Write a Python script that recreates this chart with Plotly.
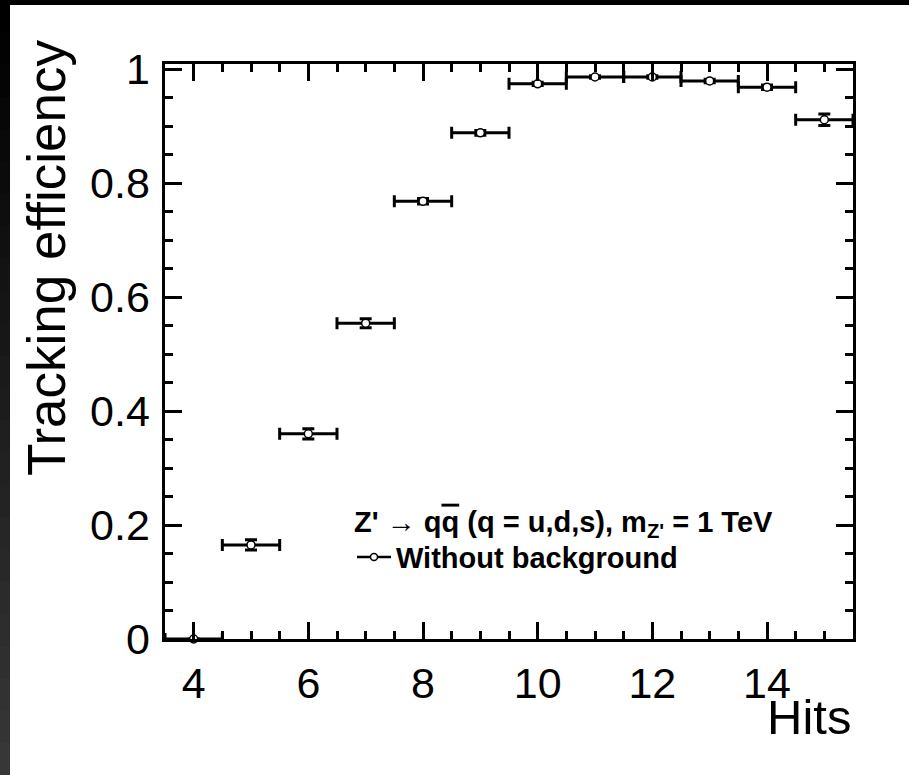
import plotly.graph_objects as go

# ---- data ----
hits = [4, 5, 6, 7, 8, 9, 10, 11, 12, 13, 14, 15]
efficiency = [0.0, 0.165, 0.360, 0.554, 0.768, 0.888, 0.974, 0.986, 0.986, 0.979, 0.968, 0.911]
eff_err = [0.0, 0.009, 0.009, 0.008, 0.005, 0.004, 0.003, 0.002, 0.002, 0.003, 0.004, 0.010]
hits_halfwidth = [0.5] * len(hits)

x_ticks = [4, 6, 8, 10, 12, 14]
y_ticks = [0, 0.2, 0.4, 0.6, 0.8, 1]
y_tick_text = ["0", "0.2", "0.4", "0.6", "0.8", "1"]

W, H = 909, 775
ML, MR, MT, MB = 165, 56, 64, 136
PW, PH = W - ML - MR, H - MT - MB

def px(xpix):
    return (xpix - ML) / PW

def py(ypix):
    return (H - MB - ypix) / PH

FONT = "Liberation Sans, Arial, Helvetica, sans-serif"

fig = go.Figure()

fig.add_trace(go.Scatter(
    x=hits, y=efficiency, mode="markers", showlegend=False, cliponaxis=False,
    marker=dict(symbol="circle", size=8, color="white", line=dict(color="black", width=1.5)),
    error_x=dict(type="data", array=hits_halfwidth, color="black", thickness=3, width=6),
    error_y=dict(type="data", array=eff_err, color="black", thickness=3, width=6),
))

# legend entry
fig.add_trace(go.Scatter(
    x=[None], y=[None], mode="lines+markers", name="<b>Without background</b>",
    line=dict(color="black", width=2.5),
    marker=dict(symbol="circle", size=7, color="white", line=dict(color="black", width=1.5)),
))

# dark frame bands (left gradient, top) -- overlapping to avoid seams
shapes = []
nseg = 24
for i in range(nseg):
    y0 = H * i / nseg
    g = int(0 + 55 * i / (nseg - 1))
    shapes.append(dict(type="rect", xref="paper", yref="paper",
                       x0=px(0), x1=px(10), y0=py(H), y1=py(y0),
                       fillcolor=f"rgb({g},{g},{g})", line=dict(width=0), layer="above"))
shapes.append(dict(type="rect", xref="paper", yref="paper",
                   x0=px(0), x1=px(W), y0=py(5), y1=py(0),
                   fillcolor="black", line=dict(width=0), layer="above"))

axis_common = dict(
    showgrid=False, zeroline=False, showline=True, linecolor="black", linewidth=3,
    mirror="ticks", ticks="inside", ticklen=17, tickwidth=3, tickcolor="black",
    tickfont=dict(family=FONT, size=43, color="black"),
)

fig.update_layout(
    width=W, height=H,
    margin=dict(l=ML, r=MR, t=MT, b=MB, pad=0),
    paper_bgcolor="white", plot_bgcolor="white",
    xaxis=dict(range=[3.5, 15.5], tickvals=x_ticks, ticktext=[str(v) for v in x_ticks],
               minor=dict(dtick=0.5, tick0=0, ticks="inside", ticklen=8, tickwidth=3, tickcolor="black"),
               ticklabelstandoff=4, **axis_common),
    yaxis=dict(range=[0, 1.0088], tickvals=y_ticks, ticktext=[t + "\u200a" for t in y_tick_text],
               minor=dict(dtick=0.05, tick0=0, ticks="inside", ticklen=8, tickwidth=3, tickcolor="black"),
               **axis_common),
    showlegend=True,
    legend=dict(
        x=px(352), y=py(494), xanchor="left", yanchor="top",
        bgcolor="rgba(0,0,0,0)", borderwidth=0,
        font=dict(family=FONT, size=29, color="black"),
        title=dict(text="<b>Z'</b> → <b>q<span style='text-decoration:overline'>q</span> (q = u,d,s), m<sub>Z'</sub> = 1 TeV</b>",
                   font=dict(family=FONT, size=29, color="black"), side="top"),
        itemwidth=34,
    ),
    shapes=shapes,
    annotations=[
        dict(text="Hits", xref="paper", yref="paper", x=1, y=py(717), xanchor="right", yanchor="middle",
             showarrow=False, font=dict(family=FONT, size=49, color="black")),
        dict(text="Tracking efficiency", xref="paper", yref="paper", x=px(46), y=py(38),
             xanchor="center", yanchor="top", textangle=-90,
             showarrow=False, font=dict(family=FONT, size=53, color="black")),
    ],
)

fig.write_html("out.html", config={"displayModeBar": False},
               post_script="document.body.style.margin='0';document.body.style.overflow='hidden';")
